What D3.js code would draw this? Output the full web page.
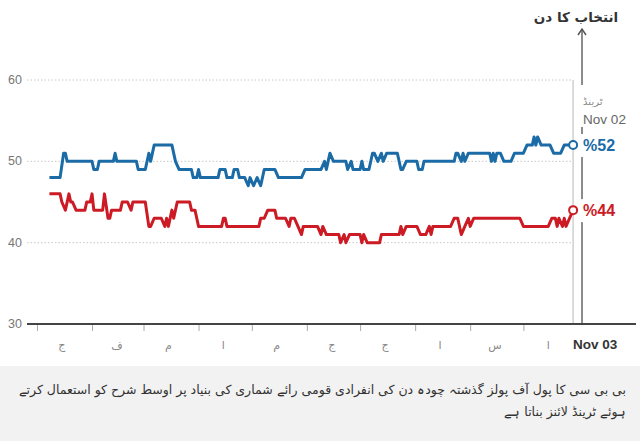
<!DOCTYPE html>
<html><head><meta charset="utf-8">
<script src="https://cdn.jsdelivr.net/npm/d3@7/dist/d3.min.js"></script>
<style>
body{margin:0;background:#fff;}
svg{display:block;font-family:"Liberation Sans",Arial,sans-serif;}
</style>
</head><body>
<svg id="c" width="640" height="441"></svg>
<script>
// ---- data (days since 1 Jan 2016, poll-of-polls %) ----
const blueDays = [7,13,15,16,17,31,32,34,35,43,44,45,56,57,61,63,64,66,76,78,80,87,88,90,91,92,102,103,106,107,110,111,113,114,117,119,120,122,124,126,128,134,136,149,151,160,162,163,164,165,167,174,175,177,178,182,183,184,187,189,190,192,194,195,197,203,205,206,208,214,215,217,218,235,236,237,239,240,241,243,255,256,257,258,259,261,263,267,269,274,276,279,280,281,282,284,289,291,295,297,302];
const blueVals = [48,48,51,51,50,50,49,49,50,50,51,50,50,49,49,51,50,52,52,50,49,49,48,48,49,48,48,49,49,48,48,49,49,48,48,47,48,47,48,47,49,49,48,48,49,49,50,49,50,51,50,50,49,50,49,49,50,49,49,51,51,50,51,50,51,51,49,49,50,50,49,49,50,50,51,51,50,51,50,51,51,50,51,50,51,51,50,50,51,51,52,52,53,52,53,52,52,51,51,52,52];
const redDays = [7,13,14,16,18,19,20,22,27,28,30,31,32,37,38,40,41,42,47,48,51,53,54,61,63,64,66,70,72,73,74,76,77,79,86,87,89,90,91,104,105,106,107,125,126,128,130,134,135,140,142,143,145,147,149,150,158,160,161,163,170,171,173,174,176,182,183,184,186,193,194,204,205,206,208,214,216,219,221,222,223,233,235,237,239,241,243,244,246,272,274,288,290,292,293,294,296,297,298,300,302];
const redVals = [46,46,45,44,46,45,45,44,44,45,45,46,44,44,46,43,43,44,44,45,45,44,45,45,42,42,43,43,42,43,42,44,43,45,45,44,44,43,42,42,43,43,42,42,43,43,44,44,43,43,42,43,43,42,41,42,42,41,42,41,41,40,41,40,41,41,40,41,40,40,41,41,42,41,42,42,41,41,42,41,42,42,43,43,41,42,43,42,43,43,42,42,43,43,42,43,42,43,42,43,44];
const yTicks = [30,40,50,60];
const monthStarts = [0,1,2,3,4,5,6,7,8,9];
const monthLabels = ["ج","ف","م","ا","م","ج","ج","ا","س","ا"];
const electionLabel = "انتخاب کا دن";
const trendWord = "ٹرینڈ";
const trendDateLabel = "Nov 02";
const todayLabel = "Nov 03";
const footerLines = [
  "بی بی سی کا پول آف پولز گذشتہ چودہ دن کی انفرادی قومی رائے شماری کی بنیاد پر اوسط شرح کو استعمال کرتے",
  "ہوئے ٹرینڈ لائنز بناتا ہے"
];
const BLUE = "#1a6ba6", RED = "#cc1b24";

const day = d => new Date(2016, 0, 1 + d);
const svg = d3.select("#c");
const x = d3.scaleTime().domain([new Date(2016,0,1), new Date(2016,10,3)]).range([37, 582]);
const y = d3.scaleLinear().domain([30, 60]).range([324, 80]);
const lastDay = blueDays[blueDays.length-1];
const xTrend = x(day(lastDay));
const xElect = x(new Date(2016,10,3));

// grid
svg.append("g").selectAll("line").data(yTicks.filter(t=>t>30)).join("line")
  .attr("x1", 27).attr("x2", xTrend).attr("y1", d=>y(d)).attr("y2", d=>y(d))
  .attr("stroke", "#c8c8c8").attr("stroke-width", 1).attr("stroke-dasharray", "1.5,2");
svg.append("g").selectAll("text").data(yTicks).join("text")
  .attr("x", 22).attr("y", d=>y(d)+4).attr("text-anchor","end")
  .attr("font-size", 12.5).attr("fill", "#777").text(d=>d);

// trend vertical light line
svg.append("line").attr("x1", xTrend).attr("x2", xTrend).attr("y1", y(60)).attr("y2", y(30))
  .attr("stroke", "#d0d0d0").attr("stroke-width", 1.5);

// election day arrow line
svg.append("line").attr("x1", xElect).attr("x2", xElect).attr("y1", y(30)).attr("y2", 30)
  .attr("stroke", "#666").attr("stroke-width", 1.5);
svg.append("path").attr("d", `M${xElect-4},${35} L${xElect},${29} L${xElect+4},${35}`)
  .attr("fill","none").attr("stroke","#555").attr("stroke-width",1.5);
svg.append("text").attr("x", xElect-6).attr("y", 22).attr("text-anchor","middle")
  .attr("font-size", 13.5).attr("font-weight","bold").attr("fill","#333")
  .style("font-family","'DejaVu Sans',sans-serif").text(electionLabel);

// axis
const xAxis = d3.axisBottom(x).tickValues(monthStarts.map(m=>new Date(2016,m,1)))
  .tickSize(6).tickFormat("");
const gx = svg.append("g").attr("transform", `translate(0,${y(30)+1})`).call(xAxis);
gx.select(".domain").remove();
gx.selectAll(".tick line").attr("stroke","#aaa");
svg.append("line").attr("x1", 27).attr("x2", 636).attr("y1", y(30)).attr("y2", y(30))
  .attr("stroke", "#444").attr("stroke-width", 2.2);
svg.append("g").selectAll("text").data(monthLabels).join("text")
  .attr("x", (d,i)=>x(new Date(2016, monthStarts[i], 15))).attr("y", 349)
  .attr("text-anchor","middle").attr("font-size", 11).attr("fill","#888")
  .style("font-family","'DejaVu Sans',sans-serif").text(d=>d);
svg.append("text").attr("x", 573).attr("y", 349).attr("font-size", 13.5).attr("font-weight","bold")
  .attr("fill","#333").text(todayLabel);

// lines
const line = d3.line().x(d=>x(day(d[0]))).y(d=>y(d[1]));
const blue = blueDays.map((d,i)=>[d, blueVals[i]]);
const red = redDays.map((d,i)=>[d, redVals[i]]);
svg.append("path").datum(red).attr("d", line).attr("fill","none").attr("stroke", RED)
  .attr("stroke-width", 3).attr("stroke-linejoin","round");
svg.append("path").datum(blue).attr("d", line).attr("fill","none").attr("stroke", BLUE)
  .attr("stroke-width", 3).attr("stroke-linejoin","round");

// end labels with white backing
const bx = xTrend + 4;
svg.append("rect").attr("x", bx).attr("y", 85).attr("width", 52).attr("height", 42).attr("fill","#fff");
svg.append("text").attr("x", bx+6).attr("y", 105).attr("font-size", 10).attr("fill","#888")
  .style("font-family","'DejaVu Sans',sans-serif").text(trendWord);
svg.append("text").attr("x", bx+6).attr("y", 124).attr("font-size", 13.5).attr("fill","#666").text(trendDateLabel);

[[blue, BLUE], [red, RED]].forEach(([s, c]) => {
  const last = s[s.length-1];
  svg.append("rect").attr("x", bx).attr("y", y(last[1])-11).attr("width", 42).attr("height", 23).attr("fill","#fff");
  svg.append("circle").attr("cx", x(day(last[0]))).attr("cy", y(last[1])).attr("r", 4)
    .attr("fill","#fff").attr("stroke", c).attr("stroke-width", 2);
  svg.append("text").attr("x", bx+6).attr("y", y(last[1])+6).attr("font-size", 16).attr("font-weight","bold")
    .attr("fill", c).text("%" + last[1]);
});

// footer
svg.append("rect").attr("x",0).attr("y",366).attr("width",640).attr("height",75).attr("fill","#f2f2f2");
svg.append("g").selectAll("text").data(footerLines).join("text")
  .attr("x", 626).attr("y", (d,i)=>394 + i*22).attr("text-anchor","start")
  .attr("direction","rtl").attr("font-size", 12.5).attr("fill","#333")
  .style("font-family","'DejaVu Sans',sans-serif").text(d=>d);
</script>
</body></html>
